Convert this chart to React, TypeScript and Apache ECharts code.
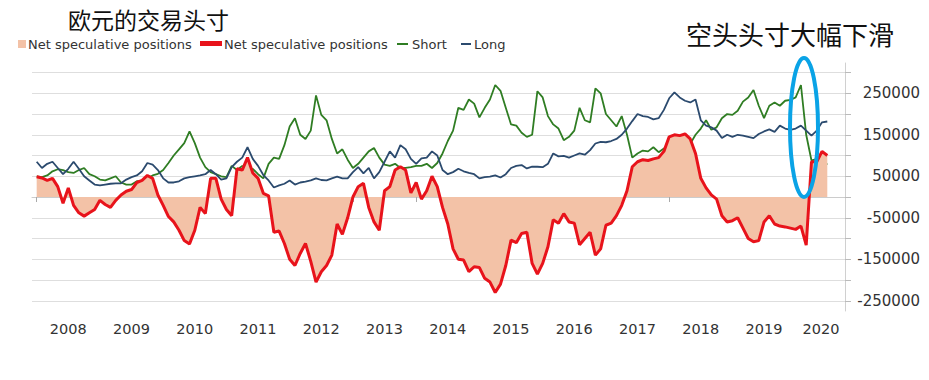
import React, { useEffect, useRef } from "react";
import * as echarts from "echarts";

// Monthly samples from 2008-01 to 2020-07
const startYear = 2008;

const netPositions = [
  49000, 46000, 40000, 45000, 25000, -15000, 22000, -20000, -38000, -46000, -38000, -30000,
  -8000, -18000, -25000, -8000, 5000, 14000, 18000, 35000, 40000, 52000, 45000, 5000,
  -20000, -47000, -60000, -80000, -105000, -113000, -80000, -25000, -40000, 45000, 45000, -5000,
  -30000, -45000, 68000, 65000, 95000, 58000, 45000, 9000, 3000, -85000, -82000, -112000,
  -150000, -165000, -136000, -112000, -155000, -205000, -180000, -165000, -140000, -65000, -90000, -50000,
  0, 25000, 33000, -25000, -60000, -80000, 15000, 25000, 65000, 73000, 65000, 10000,
  35000, -5000, 15000, 50000, 25000, -25000, -65000, -125000, -150000, -152000, -180000, -168000,
  -170000, -196000, -205000, -230000, -210000, -165000, -104000, -110000, -88000, -85000, -160000, -186000,
  -160000, -120000, -55000, -63000, -40000, -60000, -63000, -115000, -100000, -85000, -140000, -125000,
  -68000, -63000, -45000, -20000, 15000, 73000, 85000, 90000, 88000, 92000, 95000, 110000,
  145000, 150000, 148000, 152000, 140000, 105000, 45000, 22000, 5000, -5000, -45000, -60000,
  -57000, -50000, -75000, -100000, -108000, -105000, -60000, -45000, -65000, -70000, -72000, -75000,
  -78000, -70000, -116000, 85000, 85000, 110000, 100000,
];

const shortPositions = [
  50000, 48000, 52000, 62000, 67000, 65000, 60000, 58000, 65000, 70000, 55000, 50000,
  42000, 40000, 45000, 50000, 35000, 30000, 30000, 38000, 38000, 45000, 52000, 56000,
  65000, 82000, 100000, 115000, 130000, 158000, 130000, 95000, 72000, 60000, 55000, 50000,
  48000, 75000, 65000, 75000, 62000, 68000, 55000, 45000, 80000, 95000, 92000, 125000,
  170000, 190000, 150000, 140000, 160000, 245000, 198000, 185000, 140000, 105000, 115000, 90000,
  70000, 80000, 95000, 110000, 118000, 95000, 78000, 75000, 80000, 70000, 70000, 72000,
  75000, 75000, 80000, 70000, 82000, 105000, 135000, 160000, 215000, 210000, 235000, 225000,
  192000, 215000, 235000, 270000, 256000, 215000, 175000, 172000, 155000, 145000, 150000, 255000,
  240000, 195000, 175000, 165000, 137000, 145000, 160000, 215000, 185000, 180000, 262000, 250000,
  200000, 185000, 170000, 195000, 150000, 95000, 105000, 112000, 110000, 120000, 108000, 117000,
  115000, 112000, 112000, 118000, 128000, 150000, 165000, 185000, 162000, 168000, 190000, 200000,
  198000, 208000, 230000, 240000, 258000, 220000, 190000, 220000, 228000, 220000, 232000, 234000,
  240000, 270000, 150000, 88000, 92000, 90000, 78000,
];

const longPositions = [
  85000, 70000, 80000, 85000, 70000, 55000, 68000, 85000, 68000, 50000, 40000, 30000,
  28000, 30000, 32000, 33000, 33000, 42000, 48000, 52000, 62000, 82000, 78000, 65000,
  45000, 35000, 35000, 38000, 45000, 48000, 50000, 52000, 55000, 65000, 55000, 42000,
  45000, 72000, 85000, 95000, 120000, 92000, 75000, 53000, 40000, 23000, 28000, 32000,
  40000, 30000, 35000, 37000, 40000, 45000, 41000, 40000, 45000, 49000, 45000, 45000,
  60000, 72000, 57000, 70000, 45000, 60000, 85000, 110000, 95000, 125000, 115000, 92000,
  80000, 93000, 95000, 110000, 100000, 65000, 55000, 60000, 68000, 62000, 58000, 55000,
  45000, 48000, 49000, 52000, 47000, 55000, 70000, 75000, 77000, 69000, 73000, 73000,
  72000, 80000, 105000, 98000, 99000, 95000, 100000, 105000, 102000, 113000, 129000, 133000,
  132000, 135000, 140000, 150000, 165000, 183000, 200000, 195000, 193000, 187000, 190000, 210000,
  238000, 252000, 240000, 232000, 228000, 235000, 185000, 172000, 168000, 160000, 142000, 150000,
  145000, 150000, 148000, 145000, 142000, 152000, 158000, 163000, 157000, 172000, 165000, 162000,
  165000, 172000, 160000, 148000, 160000, 180000, 182000,
];

const yearTicks = [2008, 2009, 2010, 2011, 2012, 2013, 2014, 2015, 2016, 2017, 2018, 2019, 2020];
const yearLabelPos = [2008.5, 2009.5, 2010.5, 2011.5, 2012.5, 2013.5, 2014.5, 2015.5, 2016.5, 2017.5, 2018.5, 2019.5, 2020.4];
const yTicks = [-250000, -200000, -150000, -100000, -50000, 0, 50000, 100000, 150000, 200000, 250000, 300000];
const yLabels = [-250000, -150000, -50000, 50000, 150000, 250000];

const titleText = "欧元的交易头寸";
const noteText = "空头头寸大幅下滑";
const legendNames = ["Net speculative positions", "Net speculative positions", "Short", "Long"];

const COLORS = {
  fill: "#f3c2a7",
  red: "#e8131b",
  green: "#2f7d23",
  blue: "#2b4a6e",
};

const toPairs = (arr: number[]) => arr.map((v, i) => [startYear + i / 12, v]);

export default function App() {
  const ref = useRef<HTMLDivElement>(null);
  useEffect(() => {
    if (!ref.current) return;
    const chart = echarts.init(ref.current, null, { renderer: "svg" });
    const font = "DejaVu Sans";
    const cjk = "Noto Sans CJK SC";
    const legendY = 44;
    chart.setOption({
      animation: false,
      backgroundColor: "#ffffff",
      grid: { left: 32, right: 84, top: 63, bottom: 69, containLabel: false, outerBoundsMode: "none" },
      xAxis: {
        type: "value",
        min: 2007.926,
        max: 2020.78,
        axisLine: { show: true, lineStyle: { color: "#cccccc", width: 1 } },
        axisTick: { show: true, customValues: yearTicks, length: 5, lineStyle: { color: "#aaaaaa" } },
        axisLabel: {
          customValues: yearLabelPos,
          formatter: (v: number) => String(Math.floor(v)),
          fontFamily: font,
          fontSize: 14.5,
          color: "#333333",
          margin: 10,
        },
        splitLine: { show: false },
      },
      yAxis: {
        type: "value",
        position: "right",
        min: -274700,
        max: 323000,
        axisLine: { show: true, lineStyle: { color: "#d0d0d0", width: 1 } },
        axisTick: { show: true, customValues: yTicks, length: 6, lineStyle: { color: "#bbbbbb" } },
        axisLabel: {
          customValues: yLabels,
          formatter: (v: number) => String(v),
          align: "right",
          margin: 75,
          fontFamily: font,
          fontSize: 15,
          color: "#333333",
        },
        splitLine: { show: true, lineStyle: { color: "#dedede", width: 1 } },
      },
      series: [
        {
          name: "Short",
          type: "line",
          data: toPairs(shortPositions),
          showSymbol: false,
          symbol: "none",
          z: 2,
          lineStyle: { color: COLORS.green, width: 1.8 },
          itemStyle: { color: COLORS.green },
        },
        {
          name: "Net speculative positions (area)",
          type: "line",
          data: toPairs(netPositions),
          symbol: "none",
          z: 3,
          lineStyle: { width: 0 },
          areaStyle: { color: COLORS.fill, opacity: 1 },
          itemStyle: { color: COLORS.fill },
        },
        {
          name: "Net speculative positions",
          type: "line",
          data: toPairs(netPositions),
          symbol: "none",
          z: 4,
          lineStyle: { color: COLORS.red, width: 3 },
          itemStyle: { color: COLORS.red },
        },
        {
          name: "Long",
          type: "line",
          data: toPairs(longPositions),
          symbol: "none",
          z: 5,
          lineStyle: { color: COLORS.blue, width: 1.8 },
          itemStyle: { color: COLORS.blue },
        },
      ],
      graphic: [
        {
          type: "text",
          left: 68,
          top: 7,
          style: { text: titleText, font: `normal 23px "${cjk}"`, fill: "#111111" },
        },
        {
          type: "text",
          left: 686,
          top: 20,
          style: { text: noteText, font: `normal 26px "${cjk}"`, fill: "#111111" },
        },
        {
          type: "ellipse",
          z: 100,
          shape: { cx: 804, cy: 127.5, rx: 14, ry: 69.5 },
          style: { fill: "none", stroke: "#0aa3e6", lineWidth: 4 },
        },
        { type: "rect", shape: { x: 18, y: legendY - 4, width: 8, height: 8 }, style: { fill: COLORS.fill } },
        {
          type: "text",
          x: 28,
          y: legendY,
          style: { text: legendNames[0], font: `13px "${font}"`, fill: "#333333", verticalAlign: "middle" },
        },
        { type: "rect", shape: { x: 200, y: legendY - 3, width: 22, height: 5 }, style: { fill: COLORS.red } },
        {
          type: "text",
          x: 224,
          y: legendY,
          style: { text: legendNames[1], font: `13px "${font}"`, fill: "#333333", verticalAlign: "middle" },
        },
        {
          type: "line",
          shape: { x1: 397, y1: legendY, x2: 408, y2: legendY },
          style: { stroke: COLORS.green, lineWidth: 2 },
        },
        {
          type: "text",
          x: 412,
          y: legendY,
          style: { text: legendNames[2], font: `13px "${font}"`, fill: "#333333", verticalAlign: "middle" },
        },
        {
          type: "line",
          shape: { x1: 461, y1: legendY, x2: 471, y2: legendY },
          style: { stroke: COLORS.blue, lineWidth: 2 },
        },
        {
          type: "text",
          x: 474,
          y: legendY,
          style: { text: legendNames[3], font: `13px "${font}"`, fill: "#333333", verticalAlign: "middle" },
        },
      ],
    });
    return () => chart.dispose();
  }, []);
  return (
    <div
      ref={ref}
      style={{ position: "fixed", left: 0, top: 0, width: 929, height: 380, background: "#fff" }}
    />
  );
}
